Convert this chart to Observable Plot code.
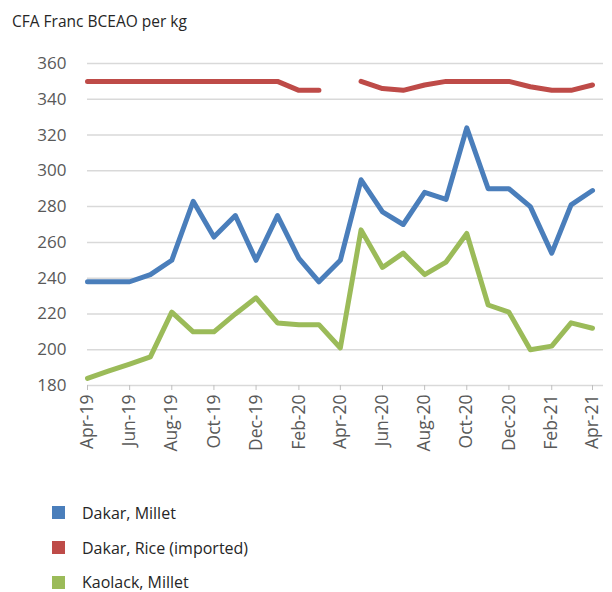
<!DOCTYPE html>
<html>
<head>
<meta charset="utf-8">
<script src="https://cdn.jsdelivr.net/npm/d3@7"></script>
<script src="https://cdn.jsdelivr.net/npm/@observablehq/plot@0.6"></script>
<style>
  html, body { margin: 0; padding: 0; background: #fff; }
  body { width: 612px; height: 592px; position: relative; overflow: hidden; font-family: "Open Sans", sans-serif; }
  #title { position: absolute; left: 12px; top: 10px; font-size: 15.5px; color: #262626; }
  #chart { position: absolute; left: 0; top: 40px; }
  #legend { position: absolute; left: 52px; top: 495px; }
  .item { display: flex; align-items: center; height: 35px; line-height: 18px; font-size: 16px; color: #262626; }
  .item:last-child { height: 30px; align-items: flex-start; padding-top: 8px; box-sizing: border-box; }
  .sw { width: 13px; height: 13px; margin-right: 17px; }
  .item:last-child .sw { margin-top: 3px; }
</style>
</head>
<body>
<div id="title">CFA Franc BCEAO per kg</div>
<div id="chart"></div>
<div id="legend"></div>
<script>
const months = ["Apr-19","May-19","Jun-19","Jul-19","Aug-19","Sep-19","Oct-19","Nov-19","Dec-19",
  "Jan-20","Feb-20","Mar-20","Apr-20","May-20","Jun-20","Jul-20","Aug-20","Sep-20","Oct-20","Nov-20","Dec-20",
  "Jan-21","Feb-21","Mar-21","Apr-21"];
const dakarMillet = [238,238,238,242,250,283,263,275,250,275,251,238,250,295,277,270,288,284,324,290,290,280,254,281,289];
const dakarRice = [350,350,350,350,350,350,350,350,350,350,345,345,null,350,346,345,348,350,350,350,350,347,345,345,348];
const kaolackMillet = [184,188,192,196,221,210,210,220,229,215,214,214,201,267,246,254,242,249,265,225,221,200,202,215,212];
const seriesNames = ["Dakar, Millet", "Dakar, Rice (imported)", "Kaolack, Millet"];
const seriesColors = ["#4a7ebb", "#be4b48", "#9bbb59"];
const yTicks = [180,200,220,240,260,280,300,320,340,360];
const xTickLabels = ["Apr-19","Jun-19","Aug-19","Oct-19","Dec-19","Feb-20","Apr-20","Jun-20","Aug-20","Oct-20","Dec-20","Feb-21","Apr-21"];

const parse = d3.utcParse("%b-%y");
const seriesValues = [dakarMillet, dakarRice, kaolackMillet];
const data = [];
seriesValues.forEach((vals, s) => {
  vals.forEach((v, i) => data.push({date: parse(months[i]), value: v == null ? NaN : v, series: seriesNames[s]}));
});

const chart = Plot.plot({
  width: 612,
  height: 430,
  marginLeft: 87,
  marginRight: 20,
  marginTop: 23,
  marginBottom: 85,
  style: {fontFamily: "Open Sans, sans-serif", background: "#fff"},
  x: {type: "utc", domain: [parse("Apr-19"), parse("Apr-21")]},
  y: {domain: [180, 360]},
  color: {domain: seriesNames, range: seriesColors},
  marks: [
    Plot.gridY(yTicks, {stroke: "#d9d9d9", strokeOpacity: 1, strokeWidth: 1.5, insetRight: -11}),
    Plot.axisY({ticks: yTicks, tickSize: 0, tickPadding: 21, fontSize: 17, fill: "#595959", label: null}),
    Plot.axisX({ticks: xTickLabels.map(parse), tickFormat: d3.utcFormat("%b-%y"), tickRotate: -90,
      tickSize: 5, tickPadding: 4, fontSize: 17.5, fill: "#595959", stroke: "#bfbfbf", label: null}),
    Plot.line(data, {x: "date", y: "value", z: "series", stroke: "series", strokeWidth: 5,
      strokeLinejoin: "round", strokeLinecap: "round"})
  ]
});
document.getElementById("chart").appendChild(chart);

const legend = document.getElementById("legend");
seriesNames.forEach((n, i) => {
  const row = document.createElement("div");
  row.className = "item";
  row.innerHTML = `<span class="sw" style="background:${seriesColors[i]}"></span><span>${n}</span>`;
  legend.appendChild(row);
});
</script>
</body>
</html>
